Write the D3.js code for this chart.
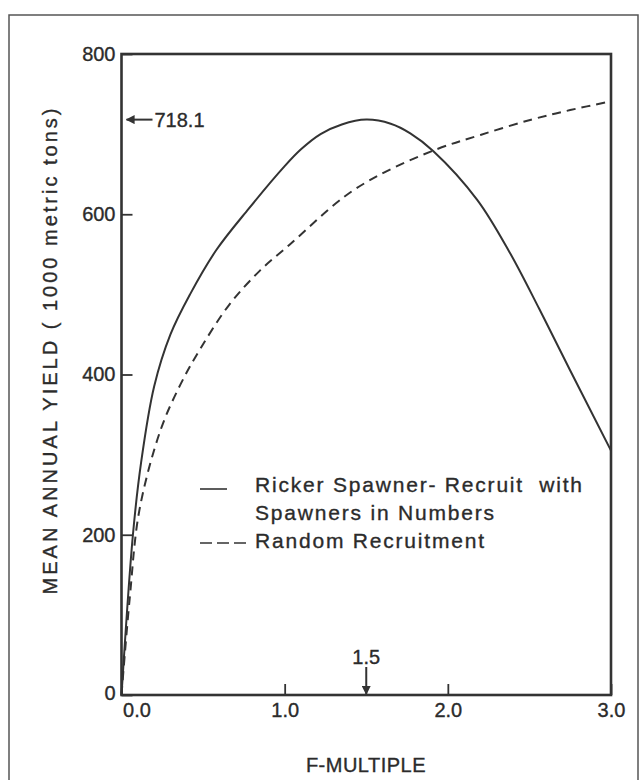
<!DOCTYPE html>
<html>
<head>
<meta charset="utf-8">
<script src="https://cdn.jsdelivr.net/npm/d3@7"></script>
<style>
	body { margin: 0; background: #fff; }
	text { font-family: "Liberation Sans", Arial, sans-serif; fill: #2b2b2b; stroke: #2b2b2b; stroke-width: 0.35px; }
</style>
</head>
<body>
<div id="chart"></div>
<script>
// values
var rickerF = [0, 0.07, 0.12, 0.2, 0.3, 0.42, 0.58, 0.78, 1.0, 1.1, 1.22, 1.35, 1.5, 1.65, 1.77, 1.91, 2.18, 2.38, 2.56, 2.75, 3.0];
var rickerYield = [0, 200, 290, 385, 450, 500, 555, 607, 660, 681, 700, 712, 718.1, 713, 701, 679, 618, 552, 482, 405, 305];

var randomF = [0, 0.05, 0.11, 0.24, 0.36, 0.48, 0.66, 0.85, 1.03, 1.36, 1.58, 1.93, 2.2, 2.51, 2.75, 3.0];
var randomYield = [0, 120, 231, 331, 387, 431, 487, 530, 562, 621, 649, 681, 699, 718, 730, 741];

var xTicks = [0, 1, 2, 3];
var yTicks = [0, 200, 400, 600, 800];
var seriesNames = ["Ricker Spawner- Recruit  with", "Spawners in Numbers", "Random Recruitment"];
var peakYield = 718.1;
var optimumF = 1.5;

var margin = { top: 54, right: 30, bottom: 85, left: 121.5 };
var W = 641, H = 780;
var width = 611 - margin.left;
var height = 695 - margin.top;

var svg = d3.select("#chart").append("svg")
	.attr("width", W)
	.attr("height", H);

// outer frame of the figure
svg.append("rect")
	.attr("x", 9).attr("y", 15)
	.attr("width", 629).attr("height", 800)
	.attr("fill", "none")
	.attr("stroke", "#555")
	.attr("stroke-width", 1.5);

var g = svg.append("g")
	.attr("transform", "translate(" + margin.left + "," + margin.top + ")");

var x = d3.scaleLinear().domain([0, 3]).range([0, width]);
var y = d3.scaleLinear().domain([0, 800]).range([height, 0]);

// axes, ticks point inward
var xAxis = g.append("g")
	.attr("transform", "translate(0," + height + ")")
	.call(d3.axisBottom(x).tickValues(xTicks).tickFormat(d3.format(".1f")).tickSize(-11).tickPadding(8));
var yAxis = g.append("g")
	.call(d3.axisLeft(y).tickValues(yTicks).tickFormat(d3.format("d")).tickSize(-11).tickPadding(6));

[xAxis, yAxis].forEach(function(a) {
	a.select(".domain").remove();
	a.selectAll("line").attr("stroke", "#333").attr("stroke-width", 1.8);
	a.selectAll("text").style("font-size", "20px").attr("fill", "#2b2b2b");
});
xAxis.selectAll(".tick text").filter(function(d) { return d === 0; }).attr("dx", 15);
yAxis.selectAll(".tick text").filter(function(d) { return d === 0; }).attr("dy", "0.2em");

// plot box
g.append("rect")
	.attr("width", width).attr("height", height)
	.attr("fill", "none")
	.attr("stroke", "#333")
	.attr("stroke-width", 2.6);

var line = d3.line()
	.x(function(d) { return x(d[0]); })
	.y(function(d) { return y(d[1]); })
	.curve(d3.curveCatmullRom.alpha(0.5));

g.append("path")
	.datum(d3.zip(rickerF, rickerYield))
	.attr("d", line)
	.attr("fill", "none")
	.attr("stroke", "#333")
	.attr("stroke-width", 2);

g.append("path")
	.datum(d3.zip(randomF, randomYield))
	.attr("d", line)
	.attr("fill", "none")
	.attr("stroke", "#333")
	.attr("stroke-width", 2)
	.attr("stroke-dasharray", "9,6");

// arrow marker
svg.append("defs").append("marker")
	.attr("id", "arrow")
	.attr("viewBox", "0 0 10 10")
	.attr("refX", 9).attr("refY", 5)
	.attr("markerWidth", 9).attr("markerHeight", 9)
	.attr("markerUnits", "userSpaceOnUse")
	.attr("orient", "auto")
	.append("path")
	.attr("d", "M0,0L10,5L0,10z")
	.attr("fill", "#333");

// 718.1 annotation on the y axis
g.append("line")
	.attr("x1", 31).attr("x2", 5)
	.attr("y1", y(peakYield)).attr("y2", y(peakYield))
	.attr("stroke", "#333").attr("stroke-width", 2)
	.attr("marker-end", "url(#arrow)");
g.append("text")
	.attr("x", 33).attr("y", y(peakYield))
	.attr("dy", "0.35em")
	.style("font-size", "20px")
	.text(d3.format(".1f")(peakYield));

// 1.5 annotation on the x axis
g.append("line")
	.attr("x1", x(optimumF)).attr("x2", x(optimumF))
	.attr("y1", height - 28).attr("y2", height - 1)
	.attr("stroke", "#333").attr("stroke-width", 2)
	.attr("marker-end", "url(#arrow)");
g.append("text")
	.attr("x", x(optimumF)).attr("y", height - 31)
	.attr("text-anchor", "middle")
	.style("font-size", "20px")
	.text(d3.format(".1f")(optimumF));

// legend
var lg = svg.append("g").attr("transform", "translate(200,0)");
lg.append("line")
	.attr("x1", 0).attr("x2", 27).attr("y1", 489).attr("y2", 489)
	.attr("stroke", "#333").attr("stroke-width", 1.6);
lg.append("line")
	.attr("x1", 0).attr("x2", 46).attr("y1", 543).attr("y2", 543)
	.attr("stroke", "#333").attr("stroke-width", 1.6)
	.attr("stroke-dasharray", "12,5");
lg.selectAll("text.leg")
	.data(seriesNames)
	.enter().append("text")
	.attr("class", "leg")
	.attr("x", 55)
	.attr("y", function(d, i) { return [492, 520, 548][i]; })
	.style("font-size", "21px")
	.style("letter-spacing", "1.8px")
	.style("white-space", "pre")
	.text(function(d) { return d; });

// axis titles
svg.append("text")
	.attr("x", 366).attr("y", 772)
	.attr("text-anchor", "middle")
	.style("font-size", "20px")
	.style("letter-spacing", "0.5px")
	.text("F-MULTIPLE");

svg.append("text")
	.attr("transform", "translate(57,350) rotate(-90)")
	.attr("text-anchor", "middle")
	.style("font-size", "20px")
	.style("letter-spacing", "3px")
	.style("white-space", "pre")
	.text("MEAN ANNUAL YIELD ( 1000 metric tons)");
</script>
</body>
</html>
